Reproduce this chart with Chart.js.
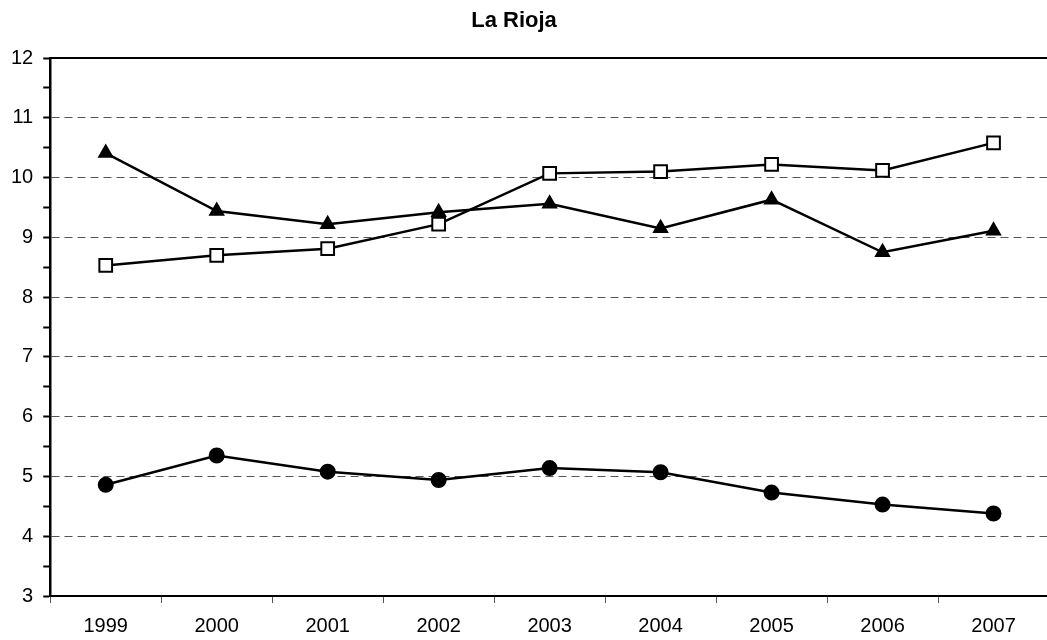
<!DOCTYPE html>
<html>
<head>
<meta charset="utf-8">
<script src="https://cdn.jsdelivr.net/npm/chart.js@4/dist/chart.umd.min.js"></script>
<style>
  html, body { margin:0; padding:0; background:#fff; overflow:hidden; }
  #wrap { width:1060px; height:651px; }
</style>
</head>
<body>
<div id="wrap"><canvas id="chart"></canvas></div>
<script>
// chart data
const title = 'La Rioja';
const years = ['1999','2000','2001','2002','2003','2004','2005','2006','2007'];
const triangles = [10.41, 9.44, 9.22, 9.42, 9.56, 9.15, 9.63, 8.75, 9.11];
const squares = [8.53, 8.70, 8.81, 9.22, 10.07, 10.10, 10.22, 10.12, 10.58];
const circles = [4.86, 5.35, 5.08, 4.94, 5.14, 5.07, 4.73, 4.53, 4.38];
const yMin = 3, yMax = 12;

const FONT = "'Liberation Sans', Arial, sans-serif";

function serie(values, style, radius, fill){
  return {
    data: values,
    borderColor: '#000',
    borderWidth: 2.5,
    tension: 0,
    pointStyle: style,
    pointRadius: radius,
    pointHoverRadius: radius,
    pointBackgroundColor: fill,
    pointBorderColor: '#000',
    pointBorderWidth: 2
  };
}

const frame = {
  id: 'frame',
  afterDraw(c){
    const ctx = c.ctx, a = c.chartArea;
    ctx.save();
    ctx.strokeStyle = '#000';
    ctx.lineWidth = 2;
    ctx.beginPath();
    ctx.moveTo(a.left, a.top);
    ctx.lineTo(a.right, a.top);
    ctx.stroke();
    ctx.fillStyle = '#000';
    ctx.font = 'bold 22px ' + FONT;
    ctx.textAlign = 'center';
    ctx.textBaseline = 'alphabetic';
    ctx.fillText(title, 514, 27);
    ctx.restore();
  }
};

const chart = new Chart(document.getElementById('chart'), {
  type: 'line',
  data: {
    labels: years,
    datasets: [
      serie(triangles, 'triangle', 7.5, '#000'),
      serie(squares, 'rect', 9, '#fff'),
      serie(circles, 'circle', 7, '#000')
    ]
  },
  options: {
    responsive: true,
    maintainAspectRatio: false,
    animation: false,
    events: [],
    layout: { padding: { left: 1, right: 8, top: 58, bottom: 2 } },
    plugins: { legend: { display:false }, title: { display:false }, tooltip: { enabled:false } },
    scales: {
      x: {
        offset: true,
        grid: { offset: true, drawOnChartArea: false, tickLength: 7, tickColor: '#555', tickWidth: 1 },
        border: { color: '#000', width: 2 },
        ticks: { color: '#000', font: { family: FONT, size: 20 }, padding: 11, maxRotation: 0 }
      },
      y: {
        min: yMin,
        max: yMax,
        ticks: {
          stepSize: 0.5,
          color: '#000',
          font: { family: FONT, size: 20 },
          padding: 10,
          callback: v => Number.isInteger(v) ? v : ''
        },
        grid: {
          color: c => (Number.isInteger(c.tick.value) && c.tick.value > yMin && c.tick.value < yMax) ? '#555' : 'rgba(0,0,0,0)',
          lineWidth: 1,
          tickLength: 7,
          tickColor: '#000',
          tickWidth: 2,
          tickBorderDash: [1, 0]
        },
        border: { color: '#000', width: 2.5, dash: [8, 5] }
      }
    }
  },
  plugins: [frame]
});
</script>
</body>
</html>
